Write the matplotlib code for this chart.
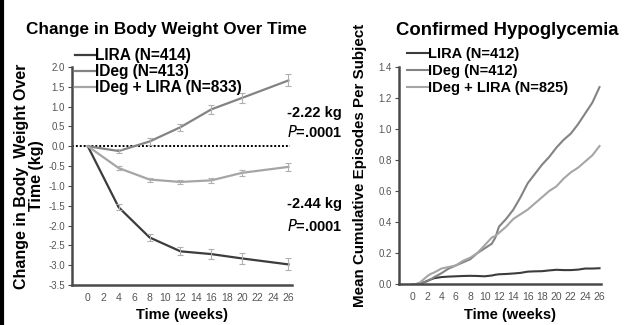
import numpy as np
import matplotlib
matplotlib.use("Agg")
import matplotlib.pyplot as plt
from matplotlib.lines import Line2D

plt.rcParams['font.family'] = ['Liberation Sans', 'DejaVu Sans']

# body weight change (kg) at visit weeks
wt_weeks = [0, 4, 8, 12, 16, 20, 26]
wt_lira = [0, -1.54, -2.30, -2.65, -2.72, -2.83, -2.98]
wt_lira_err = [0, 0.08, 0.09, 0.10, 0.12, 0.14, 0.15]
wt_ideg = [0, -0.12, 0.12, 0.48, 0.93, 1.22, 1.66]
wt_ideg_err = [0, 0.06, 0.08, 0.09, 0.11, 0.12, 0.15]
wt_combo = [0, -0.55, -0.84, -0.90, -0.86, -0.67, -0.52]
wt_combo_err = [0, 0.05, 0.05, 0.06, 0.07, 0.07, 0.10]

# cumulative hypoglycemia episodes per subject
hy_weeks = [0, 0.5, 1, 1.5, 2, 2.5, 3, 4, 5, 6, 7, 8, 9, 10, 11, 11.5, 12, 13, 14,
            15, 16, 17, 18, 19, 20, 21, 22, 23, 24, 25, 26]
hy_lira = [0, 0, 0.005, 0.01, 0.02, 0.03, 0.038, 0.045, 0.048, 0.05, 0.052, 0.053,
           0.052, 0.05, 0.055, 0.06, 0.063, 0.065, 0.068, 0.072, 0.08, 0.082, 0.083,
           0.088, 0.092, 0.09, 0.09, 0.093, 0.1, 0.1, 0.102]
hy_ideg = [0, 0, 0.003, 0.01, 0.018, 0.03, 0.045, 0.07, 0.1, 0.12, 0.14, 0.16, 0.2,
           0.23, 0.26, 0.3, 0.37, 0.42, 0.48, 0.56, 0.65, 0.71, 0.77, 0.82, 0.88,
           0.93, 0.97, 1.03, 1.10, 1.17, 1.27]
hy_combo = [0, 0, 0.01, 0.03, 0.05, 0.065, 0.075, 0.1, 0.11, 0.12, 0.15, 0.17, 0.2,
            0.25, 0.3, 0.31, 0.33, 0.37, 0.42, 0.45, 0.48, 0.52, 0.56, 0.6, 0.63,
            0.68, 0.72, 0.75, 0.79, 0.83, 0.89]

c_lira = '#3c3c3c'
c_ideg = '#838383'
c_combo = '#a5a5a5'
c_axis = '#4a4a4a'

fig = plt.figure(figsize=(6.26, 3.25), dpi=100)
ax1 = fig.add_axes([0.115, 0.123, 0.352, 0.671])
ax2 = fig.add_axes([0.637, 0.126, 0.323, 0.668])

# left panel
ax1.axhline(0, xmin=0.0, xmax=0.99, color='black', ls=(0, (1.0, 1.0)), lw=1.4)
ax1.plot(wt_weeks, wt_lira, color=c_lira, lw=1.6, label='LIRA (N=414)')
ax1.plot(wt_weeks, wt_ideg, color=c_ideg, lw=1.6, label='IDeg (N=413)')
ax1.plot(wt_weeks, wt_combo, color=c_combo, lw=1.6, label='IDeg + LIRA (N=833)')
for y, e in [(wt_lira, wt_lira_err), (wt_ideg, wt_ideg_err), (wt_combo, wt_combo_err)]:
    ax1.errorbar(wt_weeks[1:], y[1:], yerr=e[1:], fmt='none', ecolor='#b0b0b0',
                 elinewidth=0.8, capsize=2, capthick=0.8)
ax1.set_xlim(-2.05, 26.5)
ax1.set_ylim(-3.5, 2.0)
ax1.set_yticks(np.arange(-3.5, 2.01, 0.5))
ax1.set_yticklabels([f'{v:.1f}' for v in np.arange(-3.5, 2.01, 0.5)])
ax1.set_xticks(range(0, 27, 2))
ax1.set_ylabel('Change in Body  Weight Over\nTime (kg)', fontsize=11.5,
               fontweight='bold', linespacing=1.0, labelpad=3)
ax1.set_xlabel('Time (weeks)', fontsize=10.5, fontweight='bold')
ax1.xaxis.set_label_coords(0.5, -0.105)
ax1.text(0.43, 1.17, 'Change in Body Weight Over Time', transform=ax1.transAxes,
         fontsize=12.3, fontweight='bold', ha='center', va='center')
ann = dict(transform=ax1.transAxes, fontsize=10.5, fontweight='bold',
           ha='center', va='center')
ax1.text(1.10, 0.79, '-2.22 kg', **ann)
ax1.text(1.10, 0.70, r'$\bf{\it{P}}$=.0001', **ann)
ax1.text(1.10, 0.37, '-2.44 kg', **ann)
ax1.text(1.10, 0.27, r'$\bf{\it{P}}$=.0001', **ann)
ax1.legend(loc='upper left', bbox_to_anchor=(0.012, 1.085), frameon=False,
           handlelength=1.3, handletextpad=0.0, labelspacing=0.05, borderpad=0,
           borderaxespad=0, prop={'weight': 'bold', 'size': 11.2})

# right panel
ax2.plot(hy_weeks, hy_lira, color=c_lira, lw=1.5, label='LIRA (N=412)')
ax2.plot(hy_weeks, hy_ideg, color=c_ideg, lw=1.5, label='IDeg (N=412)')
ax2.plot(hy_weeks, hy_combo, color=c_combo, lw=1.5, label='IDeg + LIRA (N=825)')
ax2.set_xlim(-1.95, 26.2)
ax2.set_ylim(0, 1.4)
ax2.set_yticks(np.arange(0, 1.41, 0.2))
ax2.set_yticklabels([f'{v:.1f}' for v in np.arange(0, 1.41, 0.2)])
ax2.set_xticks(range(0, 27, 2))
ax2.set_ylabel('Mean Cumulative Episodes Per Subject', fontsize=10.9,
               fontweight='bold')
ax2.yaxis.set_label_coords(-0.155, 0.545)
ax2.set_xlabel('Time (weeks)', fontsize=10.5, fontweight='bold')
ax2.xaxis.set_label_coords(0.55, -0.11)
ax2.text(0.535, 1.17, 'Confirmed Hypoglycemia', transform=ax2.transAxes,
         fontsize=13.3, fontweight='bold', ha='center', va='center')
ax2.legend(loc='upper left', bbox_to_anchor=(0.04, 1.092), frameon=False,
           handlelength=1.45, handletextpad=0.0, labelspacing=0.2, borderpad=0,
           borderaxespad=0, prop={'weight': 'bold', 'size': 10.5})

for ax in (ax1, ax2):
    for s in ('top', 'right'):
        ax.spines[s].set_visible(False)
    for s in ('left', 'bottom'):
        ax.spines[s].set_color(c_axis)
        ax.spines[s].set_linewidth(1.8)
    ax.tick_params(axis='y', length=3, width=0.8, color=c_axis, labelsize=7,
                   labelcolor='#555555', pad=2)
    ax.tick_params(axis='x', length=0, labelsize=7.5, labelcolor='#555555', pad=6)

fig.add_artist(Line2D([0.003, 0.003], [0, 1], color='black', lw=3,
                      transform=fig.transFigure))

fig.savefig('out.png', dpi=100)
